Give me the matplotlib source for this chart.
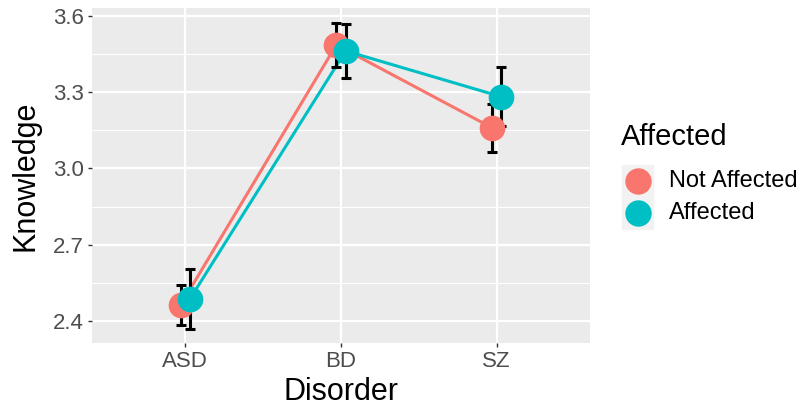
import matplotlib
matplotlib.use("Agg")
from matplotlib import pyplot as plt
from matplotlib.lines import Line2D
from matplotlib.patches import Rectangle
import numpy as np

plt.rcParams['font.family'] = ['Liberation Sans', 'DejaVu Sans']

disorders = ["ASD", "BD", "SZ"]
groups = ["Not Affected", "Affected"]
colors = ["#F8766D", "#00BFC4"]
knowledge_not = [2.463, 3.486, 3.160]
knowledge_aff = [2.487, 3.462, 3.282]
se_not = [0.080, 0.086, 0.095]
se_aff = [0.118, 0.105, 0.115]
y_ticks = [2.4, 2.7, 3.0, 3.3, 3.6]

W, H = 807, 409
fig = plt.figure(figsize=(W / 100, H / 100), dpi=100)
ax = fig.add_axes([92 / W, 1 - 343 / H, (590 - 92) / W, (343 - 8) / H])
ax.set_facecolor("#EBEBEB")
for s in ax.spines.values():
    s.set_visible(False)

x = np.arange(len(disorders))
dodge = 0.03
series = [(knowledge_not, se_not, -dodge), (knowledge_aff, se_aff, dodge)]

for (vals, se, off), c in zip(series, colors):
    ax.plot(x + off, vals, color=c, lw=2.2, zorder=3)
for (vals, se, off), c in zip(series, colors):
    ax.errorbar(x + off, vals, yerr=se, fmt="none", ecolor="black",
                elinewidth=2.2, capsize=3.5, capthick=2.2, zorder=4)
for (vals, se, off), c in zip(series, colors):
    ax.plot(x + off, vals, "o", color=c, ms=18.5, mew=0, zorder=5)

ax.set_xlim(-0.6, 2.6)
ax.set_ylim(2.313, 3.631)
ax.set_xticks(x)
ax.set_xticklabels(disorders)
ax.set_yticks(y_ticks)
ax.set_yticklabels([f"{v:.1f}" for v in y_ticks])
ax.set_yticks([2.55, 2.85, 3.15, 3.45], minor=True)
ax.grid(which="major", color="white", lw=1.6)
ax.grid(which="minor", axis="y", color="white", lw=0.8)
ax.set_axisbelow(True)
ax.tick_params(which="major", length=3, width=1, color="#333333",
               labelsize=16, labelcolor="#4D4D4D", pad=3)
ax.tick_params(which="minor", length=0)

ax.set_xlabel("Disorder", fontsize=22, color="black", labelpad=3)
ax.set_ylabel("Knowledge", fontsize=22, color="black", labelpad=9)

# legend drawn by hand in figure pixels
def fx(px):
    return px / W

def fy(py):
    return 1 - py / H

fig.text(fx(621), fy(137), "Affected", fontsize=21, va="center", ha="left")
for i, (g, c) in enumerate(zip(groups, colors)):
    cy = 181 + 32 * i
    fig.add_artist(Rectangle((fx(622), fy(cy + 16)), 31 / W, 32 / H,
                             transform=fig.transFigure, color="#F2F2F2", zorder=1))
    fig.add_artist(Line2D([fx(638)], [fy(cy)], marker="o", ms=19, color=c,
                          mew=0, transform=fig.transFigure, zorder=2))
    fig.text(fx(669), fy(cy), g, fontsize=17, va="center", ha="left")

fig.savefig("out.png", dpi=100)
